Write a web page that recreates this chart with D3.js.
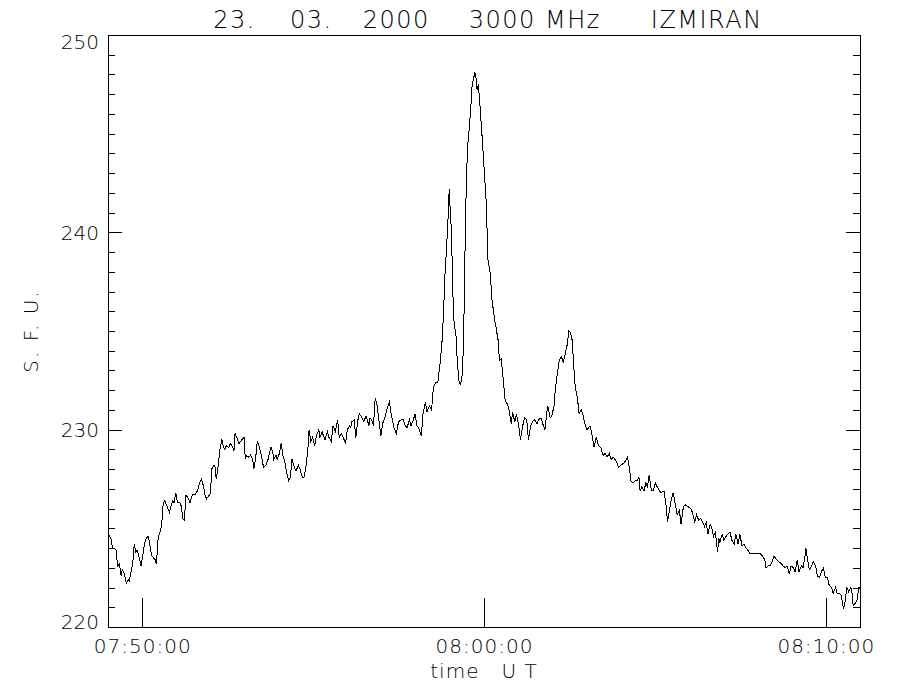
<!DOCTYPE html>
<html><head><meta charset="utf-8">
<script src="https://cdn.jsdelivr.net/npm/d3@7"></script>
<style>
html,body{margin:0;padding:0;background:#fff;}
svg{display:block;background:#fff;}
text{font-family:"DejaVu Sans",sans-serif;font-weight:200;fill:#000;}
</style></head><body>
<svg id="chart" width="900" height="700"></svg>
<script>
// ---------------- data ----------------
const titleParts = ["23.", "03.", "2000", "3000 MHz", "IZMIRAN"];
const yLabel = "S. F. U.";
const xLabel = "time   U T";
const xStart = "07:49:00";
const xEnd = "08:11:00";
const xTickLabels = ["07:50:00", "08:00:00", "08:10:00"];
const yDomain = [220, 250];
const yMajorTicks = [220, 230, 240, 250];
const yMinorStep = 1;

// seconds after 07:49:00 UT
const timeSec = [0,5,8,11,14,17,20,23,25,29,32,36,37,42,44,46,49,51,54,58,61,64,67,71,73,77,80,83,85,88,92,94,97,100,105,108,111,114,116,119,122,126,129,131,134,137,141,144,148,153,157,161,164,168,170,173,176,180,182,186,188,190,193,197,200,202,205,208,212,215,219,221,223,226,230,235,239,241,243,247,250,254,256,259,262,266,269,273,277,281,286,289,291,295,297,301,304,307,310,314,317,320,323,327,330,334,337,341,344,348,351,353,356,359,363,366,370,372,376,378,381,385,388,392,395,399,403,406,410,413,417,420,424,426,428,432,435,438,441,446,449,453,458,460,463,466,469,472,475,479,482,487,490,494,497,502,506,510,515,518,522,525,529,532,536,539,542,545,550,553,557,560,564,568,571,575,579,583,586,589,591,593,596,598,599,600,603,605,607,611,613,616,618,621,624,626,628,631,634,637,639,641,644,646,648,650,653,657,660,664,667,671,674,678,681,685,687,690,694,697,701,704,708,710,714,717,721,724,728,731,735,738,742,745,749,753,756,760,763,767,770,772,776,779,783,785,789,792,796,799,803,806,809,812,815,817,820,824,827,831,834,838,841,846,850,853,857,861,865,869,873,876,880,883,887,892,896,900,905,908,912,915,918,921,925,928,932,934,937,941,944,947,950,954,957,961,964,968,971,976,980,982,985,989,992,996,999,1003,1006,1010,1013,1018,1023,1026,1030,1033,1037,1040,1044,1047,1050,1053,1057,1060,1063,1066,1070,1072,1074,1078,1081,1085,1088,1092,1095,1099,1102,1106,1109,1113,1116,1120,1123,1127,1139,1145,1149,1153,1155,1159,1162,1166,1169,1174,1178,1182,1185,1189,1192,1196,1199,1203,1206,1210,1213,1217,1220,1223,1225,1228,1231,1235,1238,1242,1245,1249,1252,1256,1259,1263,1266,1270,1273,1277,1280,1284,1287,1291,1293,1297,1300,1304,1306,1308,1312,1315,1318,1320];

// flux, solar flux units
const sfu = [224.7,224.5,224.0,224.0,223.9,223.1,223.2,222.6,222.9,222.7,222.2,222.4,222.3,223.0,223.4,224.2,223.8,223.9,223.6,223.1,223.6,224.2,224.5,224.6,224.2,223.6,223.5,223.4,223.2,224.5,224.9,225.1,226.3,226.4,226.0,225.8,226.2,226.4,226.3,226.8,226.3,226.3,226.1,225.5,225.4,226.7,226.5,226.3,226.7,226.7,226.9,227.3,227.5,227.1,226.7,226.5,226.6,226.8,228.0,228.2,228.1,227.5,228.1,229.1,229.5,229.2,229.0,229.2,229.1,229.3,229.1,228.9,229.8,229.6,229.3,229.5,229.6,228.5,228.7,228.6,228.7,228.5,228.0,228.5,229.4,229.1,228.7,228.1,228.2,228.5,229.1,228.9,228.5,228.7,228.5,228.8,229.3,228.7,228.4,227.8,227.4,227.6,228.5,228.1,227.9,228.2,228.0,227.6,227.6,228.2,229.1,230.0,229.4,229.6,229.2,229.7,230.0,229.6,229.9,229.7,229.5,229.9,229.6,229.4,230.2,229.9,230.5,229.6,229.8,229.6,229.3,230.0,230.2,230.1,230.4,230.5,229.6,230.4,230.8,230.6,230.4,230.7,230.2,230.6,230.5,230.2,231.6,231.3,230.6,229.7,230.3,230.7,231.1,231.4,230.8,230.1,229.8,230.4,230.5,230.5,230.2,230.1,230.5,230.2,230.5,230.8,230.2,230.1,229.7,230.8,231.4,230.9,231.2,231.0,232.1,232.4,232.4,233.4,234.3,235.9,237.6,238.6,240.1,241.5,242.2,241.5,240.0,237.2,235.6,234.7,233.5,232.5,232.3,232.5,234.2,237.9,241.3,244.3,245.2,246.4,247.4,247.7,248.1,247.8,247.2,247.5,246.4,244.7,243.3,241.5,238.6,237.9,236.6,235.7,235.2,234.5,233.5,233.6,232.5,231.5,231.3,231.0,230.3,230.9,230.4,230.8,230.2,229.5,230.2,230.6,230.5,229.5,230.2,230.4,230.5,230.3,230.5,230.6,230.3,230.0,230.8,231.2,230.6,230.7,231.2,232.0,232.9,233.5,233.7,233.4,233.9,234.3,235.0,234.9,234.5,233.4,232.2,231.6,230.8,231.0,230.7,230.2,230.0,230.2,229.7,229.1,229.6,229.2,229.1,228.7,228.8,228.6,228.8,228.5,228.6,228.4,228.1,228.2,228.3,228.4,228.6,228.1,227.4,227.3,227.4,227.4,227.6,226.9,227.1,226.9,227.3,227.1,227.7,226.9,226.9,227.3,227.1,226.9,226.8,226.9,226.1,225.3,225.8,226.5,226.8,226.2,225.7,225.9,225.2,226.1,226.2,226.1,226.0,225.8,225.3,225.7,225.4,225.5,225.3,225.1,225.3,224.7,225.2,225.0,224.6,224.8,223.8,224.5,224.3,224.7,224.4,224.6,224.7,224.8,224.4,224.2,224.7,224.2,224.7,224.1,224.2,224.0,223.9,223.7,223.7,223.7,223.6,223.4,223.0,223.1,223.1,223.3,223.6,223.4,223.3,223.2,223.1,223.0,223.1,222.7,223.1,223.0,222.8,223.4,222.8,223.1,223.0,223.5,224.0,223.4,222.9,223.1,223.3,223.1,222.6,222.5,222.8,223.0,222.5,222.5,222.1,222.0,221.7,222.0,221.7,221.7,221.6,220.9,221.1,222.0,221.8,222.0,221.7,221.1,221.2,221.4,222.0,222.0];

// ---------------- chart ----------------
const day = Date.UTC(2000, 2, 23);
const parseT = s => { const [h, mi, se] = s.split(":").map(Number); return new Date(day + ((h * 60 + mi) * 60 + se) * 1000); };
const t0 = parseT(xStart);
const data = timeSec.map((s, i) => ({ date: new Date(+t0 + s * 1000), v: sfu[i] }));

const plot = { left: 108, right: 860, top: 35, bottom: 627 };
const x = d3.scaleUtc().domain([t0, parseT(xEnd)]).range([plot.left, plot.right]);
const y = d3.scaleLinear().domain(yDomain).range([plot.bottom, plot.top]);

const svg = d3.select("#chart");
const FS = 20;
const styleAxis = g => {
  g.attr("font-family", '"DejaVu Sans",sans-serif').attr("font-size", FS);
  g.selectAll("line,path").attr("shape-rendering", "crispEdges").attr("stroke-width", 1);
};

// top border
svg.append("g").attr("transform", `translate(0,${plot.top})`)
  .call(d3.axisTop(x).tickValues([]).tickSizeOuter(0)).call(styleAxis);

// bottom axis
const gx = svg.append("g").attr("transform", `translate(0,${plot.bottom})`)
  .call(d3.axisBottom(x).tickValues(xTickLabels.map(parseT))
    .tickFormat(d3.utcFormat("%H:%M:%S")).tickSize(-29).tickSizeOuter(0).tickPadding(12))
  .call(styleAxis);
gx.selectAll("text").attr("letter-spacing", 1);

// left minor + major
const minorVals = d3.range(yDomain[0], yDomain[1] + 0.001, yMinorStep);
svg.append("g").attr("transform", `translate(${plot.left},0)`)
  .call(d3.axisLeft(y).tickValues(minorVals).tickFormat("").tickSize(-7).tickSizeOuter(0)).call(styleAxis);
const gy = svg.append("g").attr("transform", `translate(${plot.left},0)`)
  .call(d3.axisLeft(y).tickValues(yMajorTicks).tickFormat(d3.format("d")).tickSize(-14).tickSizeOuter(0).tickPadding(9))
  .call(styleAxis);
// keep labels inside the frame vertically
gy.selectAll(".tick").each(function (d) {
  const ty = y(d);
  const base = Math.min(Math.max(ty + 7.3, plot.top + 13), plot.bottom + 1);
  d3.select(this).select("text").attr("dy", null).attr("y", base - ty);
});

// right minor + major
svg.append("g").attr("transform", `translate(${plot.right},0)`)
  .call(d3.axisRight(y).tickValues(minorVals).tickFormat("").tickSize(-7).tickSizeOuter(0)).call(styleAxis);
svg.append("g").attr("transform", `translate(${plot.right},0)`)
  .call(d3.axisRight(y).tickValues(yMajorTicks).tickFormat("").tickSize(-14).tickSizeOuter(0)).call(styleAxis);

// data line
svg.append("path").datum(data)
  .attr("fill", "none").attr("stroke", "#000").attr("stroke-width", 1)
  .attr("shape-rendering", "crispEdges")
  .attr("d", d3.line().x(d => x(d.date)).y(d => y(d.v)));

// title
const titleGaps = [0, 34, 30, 39, 50];
const title = svg.append("text").attr("x", 488).attr("y", 28)
  .attr("text-anchor", "middle").attr("font-size", 24).attr("letter-spacing", 1.5)
  .style("white-space", "pre");
titleParts.forEach((p, i) => title.append("tspan").attr("dx", titleGaps[i]).text(p));

// axis titles
svg.append("text").attr("x", 484).attr("y", 678).attr("text-anchor", "middle")
  .attr("font-size", FS).attr("letter-spacing", 1).style("white-space", "pre").text(xLabel);
svg.append("text").attr("transform", `translate(38,${(plot.top + plot.bottom) / 2}) rotate(-90)`)
  .attr("text-anchor", "middle").attr("font-size", FS).attr("letter-spacing", 2)
  .style("white-space", "pre").text(yLabel);
</script>
</body></html>
